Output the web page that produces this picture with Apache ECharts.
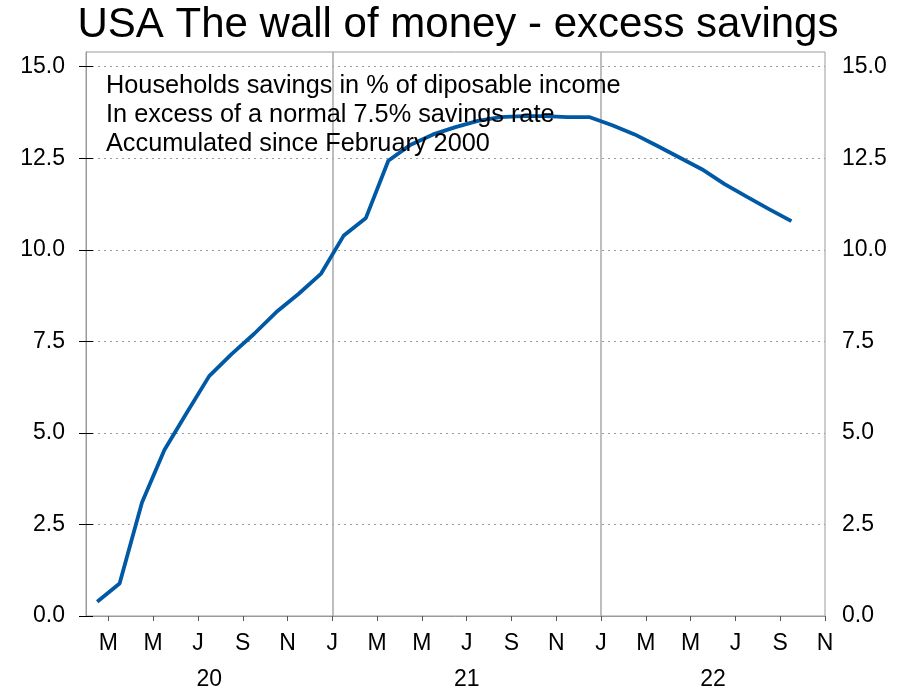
<!DOCTYPE html>
<html>
<head>
<meta charset="utf-8">
<script src="https://cdn.jsdelivr.net/npm/echarts@6/dist/echarts.min.js"></script>
<style>
html,body{margin:0;padding:0;background:#fff;}
#chart{width:916px;height:691px;}
</style>
</head>
<body>
<div id="chart"></div>
<script>
// Monthly observations (Feb 2020 .. Sep 2022)
var months = ['2020-02','2020-03','2020-04','2020-05','2020-06','2020-07','2020-08','2020-09','2020-10','2020-11','2020-12',
  '2021-01','2021-02','2021-03','2021-04','2021-05','2021-06','2021-07','2021-08','2021-09','2021-10','2021-11','2021-12',
  '2022-01','2022-02','2022-03','2022-04','2022-05','2022-06','2022-07','2022-08','2022-09'];
var excessSavings = [0.39, 0.89, 3.10, 4.53, 5.55, 6.55, 7.15, 7.70, 8.30, 8.80, 9.35,
  10.38, 10.87, 12.43, 12.87, 13.15, 13.35, 13.52, 13.62, 13.65, 13.65, 13.62, 13.62,
  13.40, 13.15, 12.84, 12.52, 12.20, 11.80, 11.45, 11.11, 10.78];
var axisStart = '2020-02';   // left edge of x axis (start of month)
var axisEnd = '2022-11';     // right edge of x axis (start of month)
var yTicks = [0, 2.5, 5, 7.5, 10, 12.5, 15];
var yearLabels = ['20', '21', '22'];
var yearBreaks = ['2021-01', '2022-01'];
var titleText = 'USA The wall of money - excess savings';
var noteLines = ['Households savings in % of diposable income',
  'In excess of a normal 7.5% savings rate',
  'Accumulated since February 2000'];

var monthLetters = 'JFMAMJJASOND';
function monthIndex(s) {
  var p = s.split('-');
  var a = axisStart.split('-');
  return (parseInt(p[0]) - parseInt(a[0])) * 12 + (parseInt(p[1]) - parseInt(a[1]));
}
var xMax = monthIndex(axisEnd);
var startMonth = parseInt(axisStart.split('-')[1]) - 1; // 0-based calendar month at index 0

var seriesData = months.map(function (m, i) { return [monthIndex(m) + 0.5, excessSavings[i]]; });

var tickVals = [];
for (var k = 0; k <= xMax; k++) {
  if (((startMonth + k) % 12) % 2 === 0) tickVals.push(k); // Jan, Mar, May, ...
}
var breaks = yearBreaks.map(monthIndex);
var yearBounds = [0].concat(breaks).concat([xMax]);
var yearPos = [];
for (var y = 0; y < yearLabels.length; y++) yearPos.push((yearBounds[y] + yearBounds[y + 1]) / 2);

var FONT = '"Liberation Sans", Arial, Helvetica, sans-serif';
var grey = '#9a9a9a';

var chart = echarts.init(document.getElementById('chart'), null, {renderer: 'canvas'});
function yAxisDef(pos, margin, split) {
  return {
    type: 'value', min: 0, max: 15.4, interval: 2.5, position: pos,
    axisLine: {show: true, lineStyle: {color: grey, width: 1}},
    axisTick: {show: true, customValues: yTicks, length: 7, inside: false, lineStyle: {color: '#000', width: 1}},
    axisLabel: {customValues: yTicks, formatter: function (v) { return v.toFixed(1); }, fontSize: 23, color: '#000', fontFamily: FONT, margin: margin},
    splitLine: split ? {show: true, lineStyle: {color: grey, type: [2, 4], width: 1}} : {show: false}
  };
}
chart.setOption({
  animation: false,
  backgroundColor: '#fff',
  title: [{
    text: titleText, left: 'center', top: -1,
    textStyle: {fontSize: 42, fontWeight: 'normal', color: '#000', fontFamily: FONT}
  }, {
    text: noteLines.join('\n'), left: 101, top: 67,
    textStyle: {fontSize: 25.3, fontWeight: 'normal', color: '#000', fontFamily: FONT, lineHeight: 29}
  }],
  grid: {left: 86, right: 91, top: 52, bottom: 75, show: true, borderColor: grey, borderWidth: 1, containLabel: false},
  xAxis: [{
    type: 'value', min: 0, max: xMax, position: 'bottom',
    axisLine: {show: true, onZero: false, lineStyle: {color: grey, width: 1}},
    axisTick: {show: true, customValues: tickVals, length: 5, lineStyle: {color: '#555'}},
    axisLabel: {customValues: tickVals, fontSize: 23, color: '#000', fontFamily: FONT, margin: 16,
      formatter: function (v) { return monthLetters.charAt((startMonth + Math.round(v)) % 12); }},
    splitLine: {show: false}
  }, {
    type: 'value', min: 0, max: xMax, position: 'bottom', offset: 36,
    axisLine: {show: false}, axisTick: {show: false},
    axisLabel: {customValues: yearPos, fontSize: 23, color: '#000', fontFamily: FONT, margin: 16,
      formatter: function (v) { var idx = yearPos.indexOf(v); return idx >= 0 ? yearLabels[idx] : ''; }},
    splitLine: {show: false}
  }],
  yAxis: [yAxisDef('left', 21, true), yAxisDef('right', 17, false)],
  series: [{
    type: 'line', xAxisIndex: 0, yAxisIndex: 0,
    data: seriesData, symbol: 'none', smooth: false,
    lineStyle: {color: '#0059a4', width: 3.8},
    markLine: {
      silent: true, symbol: ['none', 'none'], label: {show: false},
      lineStyle: {color: '#a8a8a8', type: 'solid', width: 1.5},
      data: breaks.map(function (b) { return {xAxis: b}; })
    },
    z: 5
  }]
});
</script>
</body>
</html>
